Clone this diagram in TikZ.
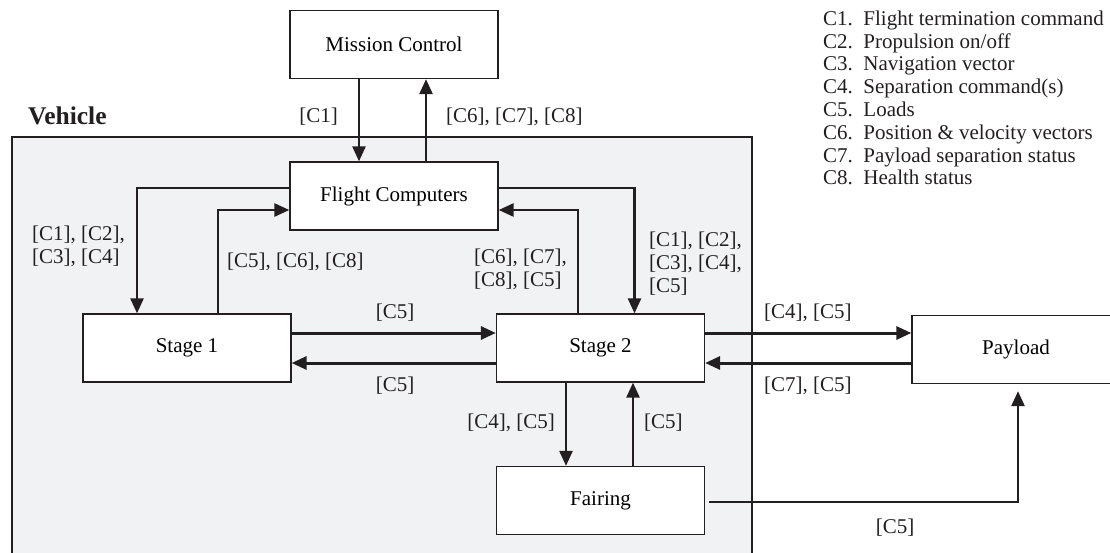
\documentclass[tikz,border=0pt]{standalone}
\usepackage{fontspec}
\setmainfont{Liberation Serif}
\usetikzlibrary{arrows.meta,positioning}
\definecolor{ink}{HTML}{231F20}
\definecolor{vehbg}{HTML}{F1F2F4}
\tikzset{
  blk/.style={draw=ink,fill=white,line width=1.3pt,minimum width=208pt,
              minimum height=68pt,inner sep=0pt},
  flow/.style={->,draw=ink,line width=2.6pt},
  bus/.style={flow,line width=3pt},
  lbl/.style={text=ink,inner sep=0pt,align=left},
}

\begin{document}
\begin{tikzpicture}[x=1pt,y=-1pt,font=\fontsize{21}{22.8}\selectfont,
                    >={Triangle[length=15pt,width=13pt]}]
  \useasboundingbox (0,0) rectangle (1110,552);
  % vehicle boundary
  \draw[draw=ink,fill=vehbg,line width=1.3pt] (12,137) rectangle (752,580);
  \node[lbl,anchor=base west,font=\fontsize{25.5}{27}\selectfont\bfseries] (veh) at (28,124) {Vehicle};
  % blocks
  \node[blk] (mc) at (394,44.5) {Mission Control};
  \node[blk] (fc) at (394,196) {Flight Computers};
  \node[blk] (s1) at (187,348) {Stage 1};
  \node[blk] (s2) at (600.5,348) {Stage 2};
  \node[blk] (fr) at (600.5,500.5) {Fairing};
  \node[blk] (pl) at (1016,349.5) {Payload};
  % mission control <-> flight computers
  \draw[flow] ([xshift=-35pt]mc.south) -- ([xshift=-35pt]fc.north);
  \draw[flow] ([xshift=32pt]fc.north) -- ([xshift=32pt]mc.south);
  \node[lbl,anchor=east] (l1) at (338,117) {[C1]};
  \node[lbl,anchor=west] (l2) at (446,117) {[C6], [C7], [C8]};
  % flight computers <-> stages
  \draw[flow] ([yshift=8pt]fc.west) -| ([xshift=-50pt]s1.north);
  \draw[flow] ([xshift=31pt]s1.north) |- ([yshift=-14pt]fc.west);
  \draw[flow] ([yshift=8pt]fc.east) -| ([xshift=34pt]s2.north);
  \draw[flow] ([xshift=-22.5pt]s2.north) |- ([yshift=-14pt]fc.east);
  \node[lbl,anchor=west] (l3) at (32,246.5) {[C1], [C2],\\{}[C3], [C4]};
  \node[lbl,anchor=west] (l4) at (227,262) {[C5], [C6], [C8]};
  \node[lbl,anchor=west] (l5) at (474,269.5) {[C6], [C7],\\{}[C8], [C5]};
  \node[lbl,anchor=west] (l6) at (649,263.5) {[C1], [C2],\\{}[C3], [C4],\\{}[C5]};
  % stage to stage and payload
  \draw[bus] ([yshift=15pt]s1.east) -- ([yshift=15pt]s2.west);
  \draw[bus] ([yshift=-15pt]s2.west) -- ([yshift=-15pt]s1.east);
  \draw[bus] ([yshift=15pt]s2.east) -- ([yshift=15pt]s2.east -| pl.west);
  \draw[bus] ([yshift=-15pt]s2.east -| pl.west) -- ([yshift=-15pt]s2.east);
  \node[lbl] (l7) at (395,313) {[C5]};
  \node[lbl] (l8) at (395,386) {[C5]};
  \node[lbl,anchor=west] (l9) at (764,313) {[C4], [C5]};
  \node[lbl,anchor=west] (l10) at (764,386) {[C7], [C5]};
  % stage 2 <-> fairing -> payload
  \draw[flow] ([xshift=-34.5pt]s2.south) -- ([xshift=-34.5pt]fr.north);
  \draw[flow] ([xshift=32.5pt]fr.north) -- ([xshift=32.5pt]s2.south);
  \draw[flow] ([xshift=4pt,yshift=-1.5pt]fr.east) -| ([xshift=2pt,yshift=-7pt]pl.south);
  \node[lbl,anchor=east] (l11) at (555,423) {[C4], [C5]};
  \node[lbl,anchor=west] (l12) at (644,423) {[C5]};
  \node[lbl] (l13) at (895,528) {[C5]};
  % legend
  \node[lbl,anchor=west] (key) at (823,98) {%
    C1.\enspace Flight termination command\\
    C2.\enspace Propulsion on/off\\
    C3.\enspace Navigation vector\\
    C4.\enspace Separation command(s)\\
    C5.\enspace Loads\\
    C6.\enspace Position \& velocity vectors\\
    C7.\enspace Payload separation status\\
    C8.\enspace Health status};
\end{tikzpicture}
\end{document}
